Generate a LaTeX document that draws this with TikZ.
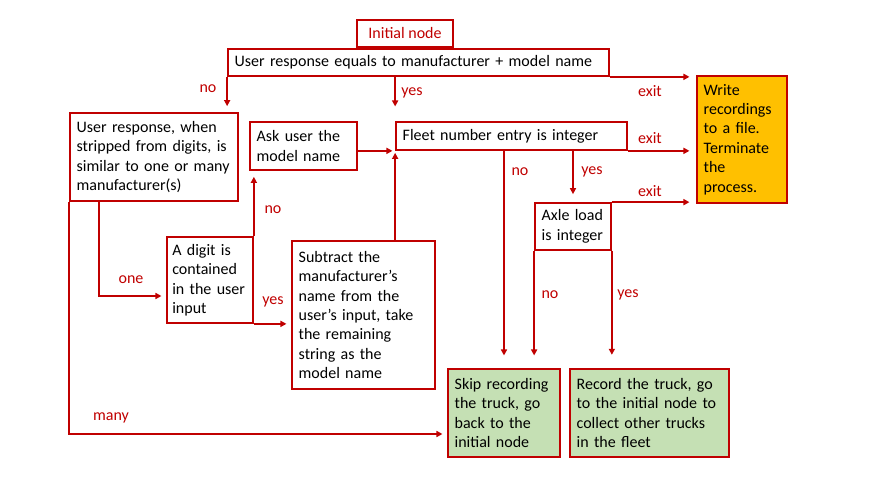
\documentclass[tikz,border=0pt]{standalone}
\usepackage{fontspec}
\setmainfont{Carlito}
\usetikzlibrary{arrows.meta}
\definecolor{dred}{HTML}{C00000}
\definecolor{gfill}{HTML}{C5E0B4}
\definecolor{ofill}{HTML}{FFC000}
\begin{document}
\begin{tikzpicture}[x=0.75pt,y=-0.75pt,
  box/.style={draw=dred,line width=1.3pt,rectangle,inner xsep=5pt,inner ysep=0pt,align=left,
    font=\fontsize{12}{14.6}\selectfont,text=black},
  lbl/.style={text=dred,font=\fontsize{12}{14.6}\selectfont,inner sep=0pt},
  arr/.style={draw=dred,line width=1.3pt,-{Triangle[length=4.5pt,width=4.5pt]}},
  ln/.style={draw=dred,line width=1.3pt}]
\useasboundingbox (0,0) rectangle (889,500);
\node[box,text=dred,align=center,minimum width=72pt,minimum height=20.25pt] (init) at (405,33.5) {Initial node};
\node[box,minimum width=285.75pt,minimum height=20.25pt,text width=275.75pt] (top) at (418.5,62.5) {User response equals to manufacturer + model name};
\node[box,minimum width=126pt,minimum height=66pt,text width=116pt] (ur) at (154,157) {User response, when\\stripped from digits, is\\similar to one or many\\manufacturer(s)};
\node[box,minimum width=80.25pt,minimum height=36pt,text width=70.25pt] (ask) at (303.5,146) {Ask user the\\model name};
\node[box,minimum width=173.25pt,minimum height=21pt,text width=163.25pt] (fleet) at (511.5,136) {Fleet number entry is integer};
\node[box,fill=ofill,minimum width=67.5pt,minimum height=95.25pt,text width=57.5pt] (write) at (742,139.5) {Write\\recordings\\to a file.\\Terminate\\the\\process.};
\node[box,minimum width=57pt,minimum height=35.25pt,text width=47pt] (axle) at (573,226.5) {Axle load\\is integer};
\node[box,inner xsep=4pt,minimum width=64.5pt,minimum height=64.5pt,text width=56.5pt] (digit) at (210,280) {A digit is\\contained\\in the user\\input};
\node[box,minimum width=107.25pt,minimum height=111pt,text width=97.25pt] (sub) at (363.5,315) {Subtract the\\manufacturer’s\\name from the\\user’s input, take\\the remaining\\string as the\\model name};
\node[box,fill=gfill,minimum width=84pt,minimum height=66pt,text width=74pt] (skip) at (504,413) {Skip recording\\the truck, go\\back to the\\initial node};
\node[box,fill=gfill,minimum width=119.25pt,minimum height=66pt,text width=109.25pt] (rec) at (649.5,413) {Record the truck, go\\to the initial node to\\collect other trucks\\in the fleet};
% connectors
\draw[arr,shorten >=4.5pt] (top.south west) -- (top.south west |- ur.north);
\draw[arr,shorten >=11pt] (fleet.north west |- top.south) -- (fleet.north west);
\draw[arr,shorten >=5pt] (top.south east) -- (top.south east -| write.west);
\draw[arr,shorten >=5pt] (fleet.south east) -- (fleet.south east -| write.west);
\draw[arr,shorten >=5pt] (axle.north east) -- (axle.north east -| write.west);
\draw[arr,shorten >=2pt] (ask.east |- fleet.south) -- (fleet.south west);
\draw[arr,shorten >=1.5pt] (fleet.south west |- sub.north) -- (fleet.south west);
\draw[arr,shorten >=9.5pt] (skip.north |- fleet.south) -- (skip.north);
\draw[arr,shorten >=6pt] (axle.north |- fleet.south) -- (axle.north);
\draw[arr,shorten >=9.5pt] (axle.south west) -- (axle.south west |- skip.north);
\draw[arr,shorten >=10pt] (axle.south east) -- (axle.south east |- rec.north);
\coordinate (oneS) at ([xshift=22.5pt]ur.south west);
\coordinate (oneE) at ([yshift=-12pt]digit.west);
\draw[arr,shorten >=3.5pt] (oneS) |- (oneE);
\coordinate (manyE) at ([yshift=-15.75pt]skip.west);
\draw[arr,shorten >=3.5pt] (ur.south west) |- (manyE);
\draw[arr,shorten >=4.5pt] (digit.north east) -- (digit.north east |- ask.south);
\draw[arr,shorten >=3.5pt] (digit.south east) -- (digit.south east -| sub.west);
% labels
\node[lbl] (l1) at (208,89) {no};
\node[lbl] (l2) at (412,93) {yes};
\node[lbl] (l3) at (650,91) {exit};
\node[lbl] (l4) at (650,138) {exit};
\node[lbl] (l5) at (650,191) {exit};
\node[lbl] (l6) at (520,172) {no};
\node[lbl] (l7) at (592,172) {yes};
\node[lbl] (l8) at (550,295) {no};
\node[lbl] (l9) at (628,295) {yes};
\node[lbl] (l10) at (131,280) {one};
\node[lbl] (l11) at (111,418) {many};
\node[lbl] (l12) at (273,210) {no};
\node[lbl] (l13) at (273,302) {yes};
\end{tikzpicture}
\end{document}
